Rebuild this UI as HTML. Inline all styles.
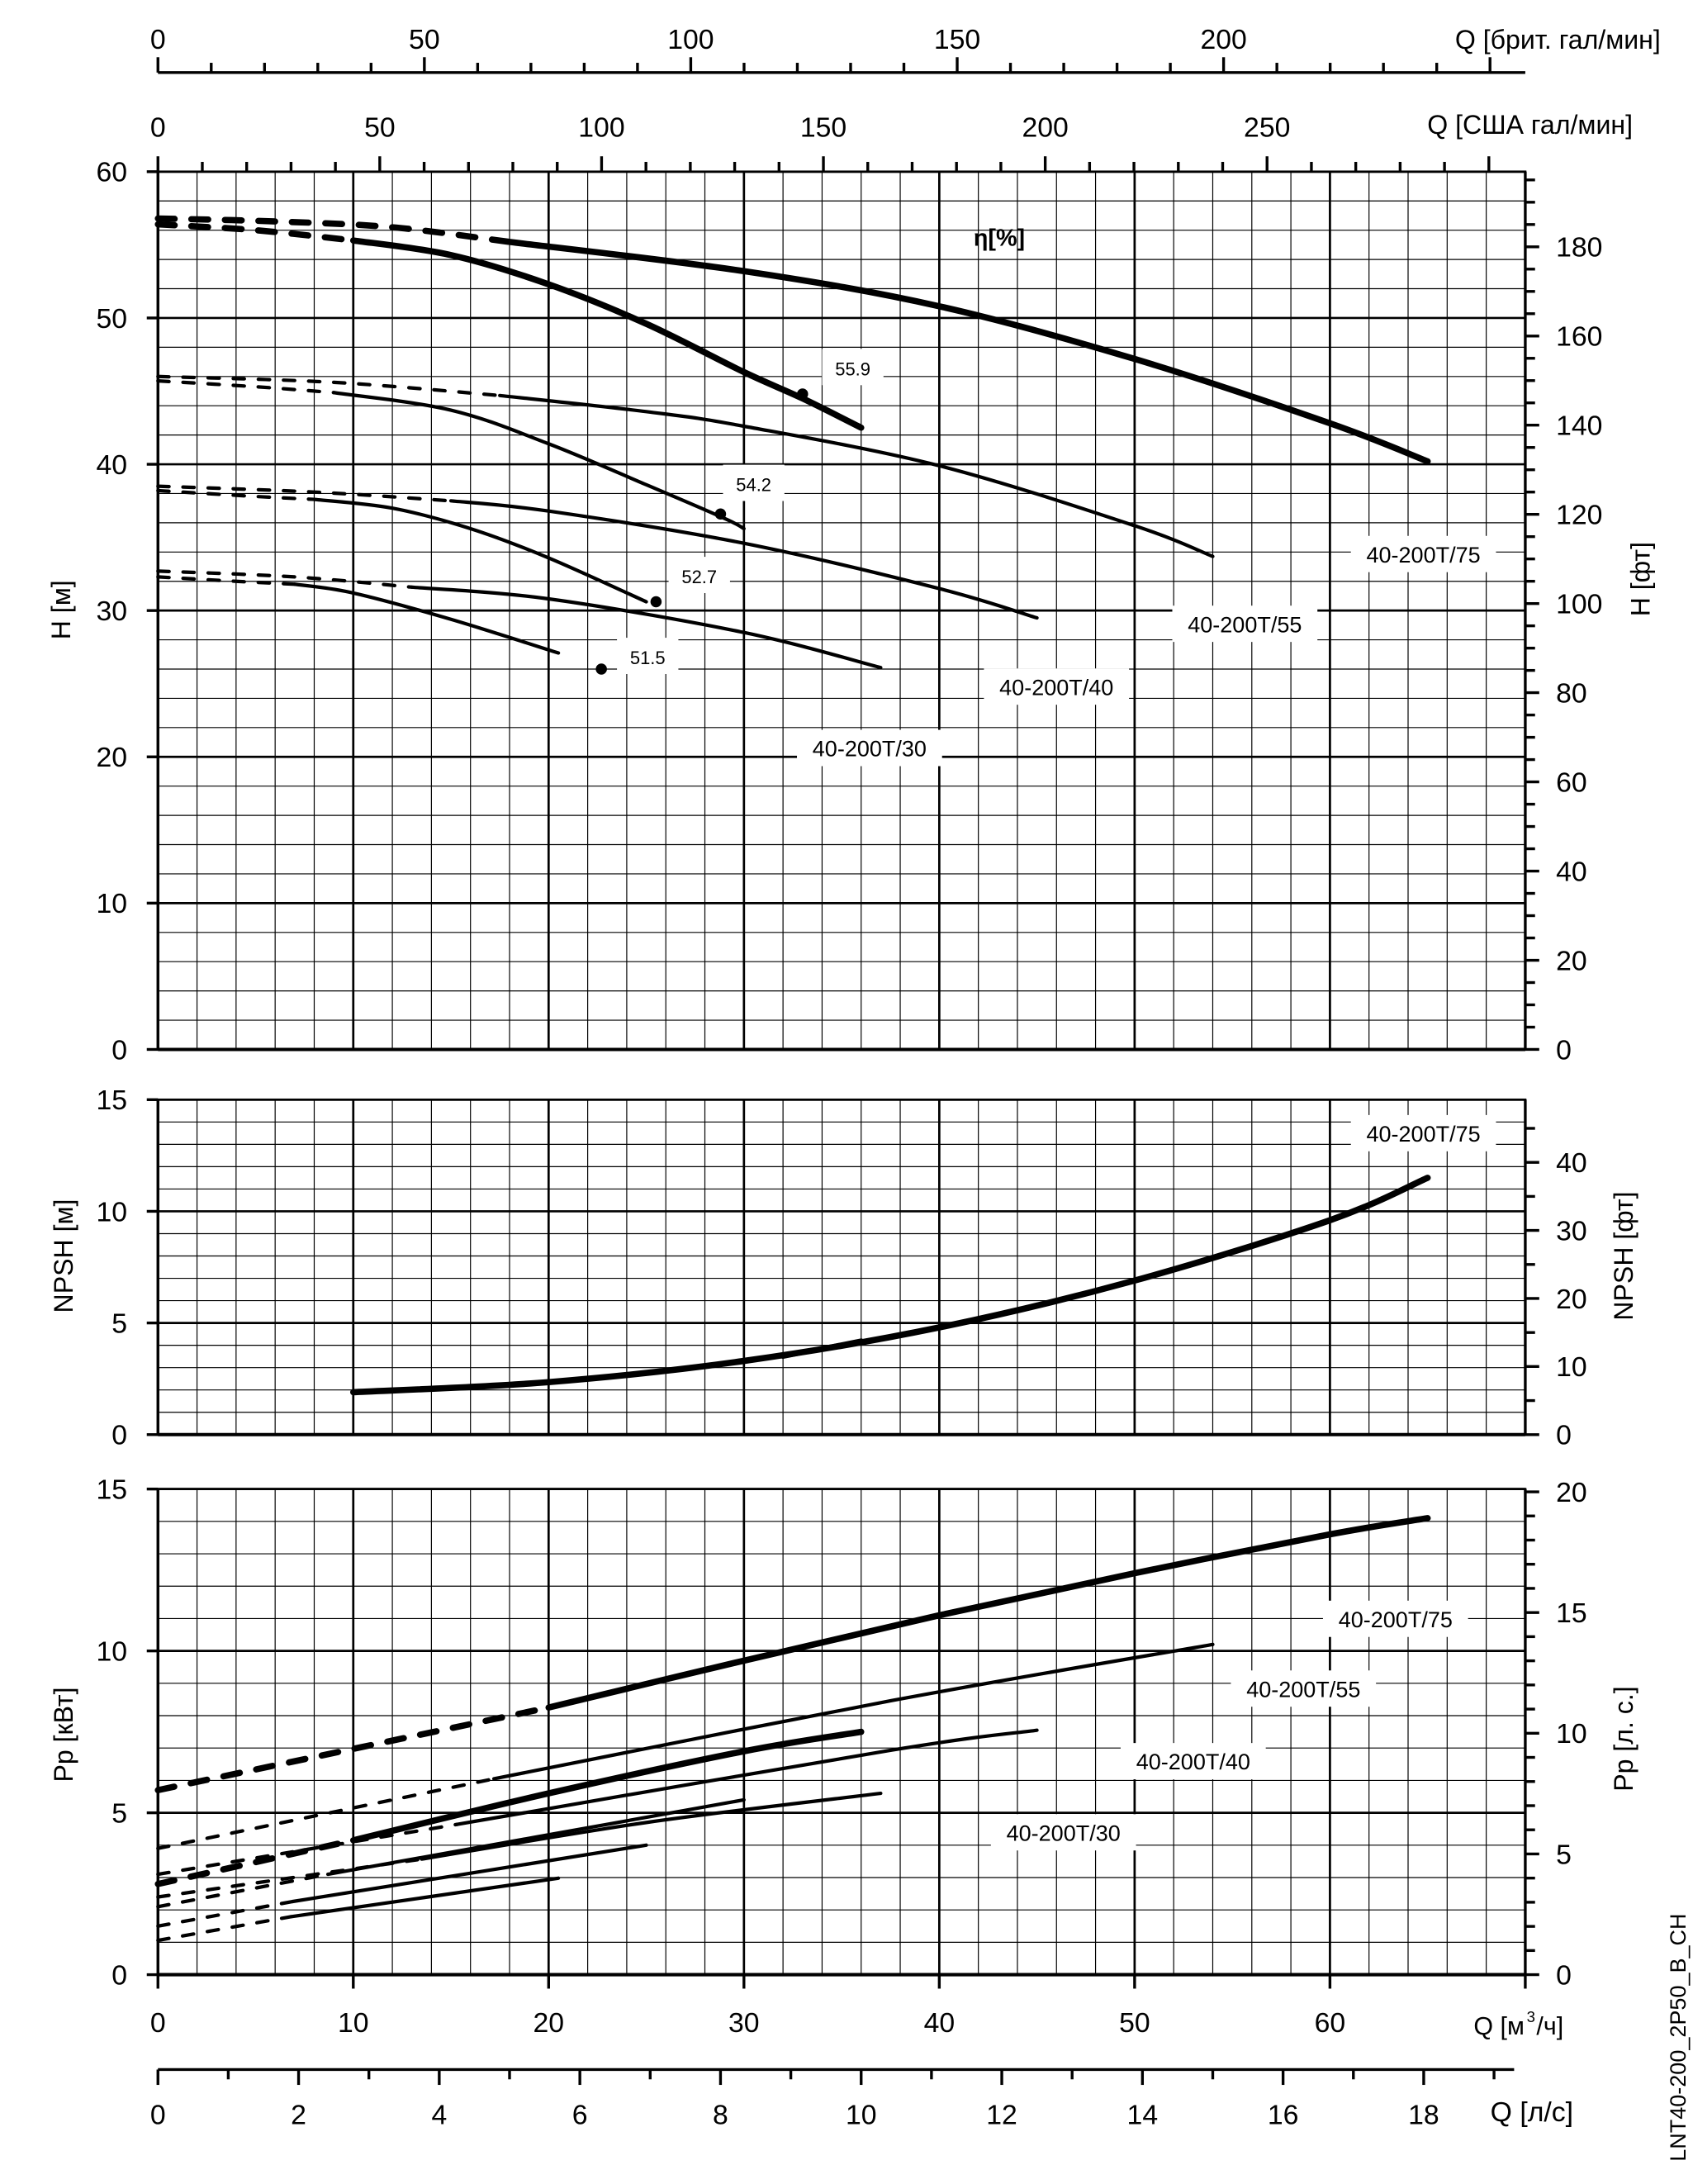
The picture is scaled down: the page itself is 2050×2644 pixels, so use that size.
<!DOCTYPE html>
<html><head><meta charset="utf-8"><style>
html,body{margin:0;padding:0;background:#fff}
svg{display:block}
text{font-family:"Liberation Sans",sans-serif;fill:#000}
</style></head><body>
<svg id="s" xmlns="http://www.w3.org/2000/svg" width="2050" height="2644" viewBox="0 0 1213 1565">
<rect width="1213" height="1565" fill="#fff"/>
<g id="g"></g>
</svg>
<script>
const NS="http://www.w3.org/2000/svg";
const G=document.getElementById('g');
function el(t,a,txt){const e=document.createElementNS(NS,t);for(const k in a)e.setAttribute(k,a[k]);if(txt!==undefined)e.textContent=txt;G.appendChild(e);return e;}
function line(x1,y1,x2,y2,w){el('line',{x1,y1,x2,y2,stroke:'#000','stroke-width':w});}
function txt(x,y,s,size,anchor,rot){const a={x,y,'font-size':size,'text-anchor':anchor||'middle'};if(rot)a.transform=`rotate(${rot} ${x} ${y})`;el('text',a,s);}
const L=113,R=1093;
const X=q=>L+14*q;
const Hy=h=>752-10.483*h, Ny=n=>1028-16*n, Py=p=>1415-23.2*p;
function grid(top,bot,yf,maxv,minorStep,majorStep){
  for(let q=0;q<=70;q+=2){line(X(q),top,X(q),bot,q%10==0?1.6:0.7);}
  for(let v=0;v<=maxv+1e-9;v+=minorStep){const y=yf(v);line(L,y,R,y,Math.abs(v/majorStep-Math.round(v/majorStep))<1e-6?1.6:0.7);}
  el('rect',{x:L,y:top,width:R-L,height:bot-top,fill:'none',stroke:'#000','stroke-width':1.6});
  line(L,bot,R,bot,2.4);line(L,top,L,bot,2);line(R,top,R,bot,2);
}
grid(123,752,Hy,60,2,10);
grid(788,1028,Ny,15,1,5);
grid(1067,1415,Py,15,1,5);
for(let h=0;h<=60;h+=10){line(L-8,Hy(h),L,Hy(h),2);txt(L-22,Hy(h)+7,h,20,'end');}
for(let n=0;n<=15;n+=5){line(L-8,Ny(n),L,Ny(n),2);txt(L-22,Ny(n)+7,n,20,'end');}
for(let p=0;p<=15;p+=5){line(L-8,Py(p),L,Py(p),2);txt(L-22,Py(p)+7,p,20,'end');}
for(let f=0;f<=195;f+=5){const y=752-f*0.3048*10.483;if(y<123)break;line(R,y,R+(f%20==0?10:7),y,2);if(f%20==0)txt(R+22,y+7,f,20,'start');}
for(let f=0;f<=49;f+=5){const y=1028-f*0.3048*16;if(y<788)break;line(R,y,R+(f%10==0?10:7),y,2);if(f%10==0)txt(R+22,y+7,f,20,'start');}
for(let hp=0;hp<=20;hp++){const y=1415-hp*0.7457*23.2;if(y<1066)break;line(R,y,R+(hp%5==0?10:7),y,2);if(hp%5==0)txt(R+22,y+7,hp,20,'start');}
for(let q=0;q<=70;q+=10){line(X(q),1415,X(q),1425,2);if(q<70)txt(X(q),1456,q,20);}
el('text',{x:1056,y:1458,'font-size':18,'text-anchor':'start'},'Q [м');
el('text',{x:1094,y:1449,'font-size':11,'text-anchor':'start'},'3');
el('text',{x:1101,y:1458,'font-size':18,'text-anchor':'start'},'/ч]');
line(L,1483,1085,1483,2);
for(let l=0;l<=19;l++){const x=L+l*3.6*14;if(x>1086)break;line(x,1483,x,1483+(l%2==0?11:7),2);if(l%2==0)txt(x,1522,l,20);}
txt(1068,1520,'Q [л/с]',20,'start');
line(L,52,1093,52,2);
for(let g=0;g<=250;g+=10){const x=L+g*14/3.666;if(x>1093)break;line(x,52,x,52-(g%50==0?11:7),2);if(g%50==0&&g<=200)txt(x,35,g,20);}
txt(1190,35,'Q [брит. гал/мин]',19,'end');
for(let g=0;g<=300;g+=10){const x=L+g*14/4.403;if(x>1093)break;line(x,123,x,123-(g%50==0?11:7),2);if(g%50==0&&g<300)txt(x,98,g,20);}
txt(1170,96,'Q [США гал/мин]',19,'end');
txt(50,437,'H [м]',19,'middle',-90);
txt(1182,415,'H [фт]',19,'middle',-90);
txt(52,900,'NPSH [м]',19,'middle',-90);
txt(1170,900,'NPSH [фт]',19,'middle',-90);
txt(52,1243,'Pp [кВт]',19,'middle',-90);
txt(1170,1246,'Pp [л. с.]',19,'middle',-90);
txt(1208,1460,'LNT40-200_2P50_B_CH',16,'middle',-90);
function path(pts,yf){const P=pts.map(p=>[X(p[0]),yf(p[1])]);let d=`M${P[0][0]},${P[0][1]}`;
 for(let i=0;i<P.length-1;i++){const p0=P[i-1]||P[i],p1=P[i],p2=P[i+1],p3=P[i+2]||p2;
  d+=`C${p1[0]+(p2[0]-p0[0])/6},${p1[1]+(p2[1]-p0[1])/6} ${p2[0]-(p3[0]-p1[0])/6},${p2[1]-(p3[1]-p1[1])/6} ${p2[0]},${p2[1]}`;}
 return d;}
function curve(pts,yf,w,dash){const a={d:path(pts,yf),fill:'none',stroke:'#000','stroke-width':w,'stroke-linecap':'round'};if(dash)a['stroke-dasharray']=dash;el('path',a);}
const TD='12 12',tD='8 10';
function lab(x,y,s,w,size){el('rect',{x:x-w/2,y:y-13,width:w,height:26,fill:'#fff'});txt(x,y+6,s,size||16);}
lab(1020,397,'40-200T/75',104);lab(892,447,'40-200T/55',104);lab(757,492,'40-200T/40',104);lab(623,536,'40-200T/30',104);
lab(611,263,'55.9',44,13);lab(540,346,'54.2',44,13);lab(501,412,'52.7',44,13);lab(464,470,'51.5',44,13);
lab(1020,812,'40-200T/75',104);
lab(1000,1160,'40-200T/75',104);lab(934,1210,'40-200T/55',104);lab(855,1262,'40-200T/40',104);lab(762,1313,'40-200T/30',104);
el('text',{x:716,y:176,'font-size':17,'font-weight':'bold','text-anchor':'middle'},'η[%]');
curve([[0,56.8],[6,56.6],[12,56.2],[18,55.2]],Hy,4.5,TD);
curve([[18,55.2],[30,53.2],[40,50.8],[50,47.2],[60,42.8],[65,40.2]],Hy,4.5);
curve([[0,56.4],[5,56],[10,55.3]],Hy,4.5,TD);
curve([[10,55.3],[15,54.3],[20,52.3],[25,49.6],[30,46.3],[33,44.5],[36,42.5]],Hy,4.5);
curve([[0,46],[9,45.6],[17.5,44.7]],Hy,2.5,tD);
curve([[17.5,44.7],[25,43.6],[30,42.6],[40,39.9],[50,35.8],[54,33.7]],Hy,2.5);
curve([[0,45.7],[5,45.3],[9,44.9]],Hy,2.5,tD);
curve([[9,44.9],[15,43.7],[20,41.4],[25,38.6],[29,36.3],[30,35.6]],Hy,2.5);
curve([[0,38.5],[8,38.1],[15,37.5]],Hy,2.5,tD);
curve([[15,37.5],[20,36.8],[30,34.6],[40,31.5],[45,29.5]],Hy,2.5);
curve([[0,38.2],[5,37.8],[8,37.6]],Hy,2.5,tD);
curve([[8,37.6],[12,37],[16,35.6],[20,33.6],[25,30.6]],Hy,2.5);
curve([[0,32.7],[7,32.3],[13,31.6]],Hy,2.5,tD);
curve([[13,31.6],[20,30.8],[30,28.5],[37,26.1]],Hy,2.5);
curve([[0,32.3],[4,32],[7,31.8]],Hy,2.5,tD);
curve([[7,31.8],[10,31.2],[15,29.4],[20.5,27.1]],Hy,2.5);
[[33,44.8],[28.8,36.6],[25.5,30.6],[22.7,26]].forEach(p=>el('circle',{cx:X(p[0]),cy:Hy(p[1]),r:4,fill:'#000'}));
curve([[10,1.9],[20,2.35],[30,3.3],[40,4.8],[50,6.9],[60,9.6],[65,11.5]],Ny,4.5);
curve([[32,3.5],[36,4.2]],Ny,3.5);
curve([[0,5.7],[20,8.25]],Py,4.5,TD);
curve([[20,8.25],[30,9.7],[40,11.1],[50,12.4],[60,13.6],[65,14.1]],Py,4.5);
curve([[0,3.9],[17.2,6.05]],Py,2.5,tD);curve([[17.2,6.05],[37.6,8.47],[54,10.2]],Py,2.5);
curve([[0,2.8],[10,4.15]],Py,4.5,TD);curve([[10,4.15],[20,5.6],[30,6.9],[36,7.5]],Py,4.5);
curve([[0,3.1],[15.3,4.64]],Py,2.5,tD);curve([[15.3,4.64],[37.6,6.94],[45,7.55]],Py,2.5);
curve([[0,2.4],[13.5,3.57]],Py,2.5,tD);curve([[13.5,3.57],[25,4.7],[37,5.6]],Py,2.5);
curve([[0,2.1],[8.7,3.1]],Py,2.5,tD);curve([[8.7,3.1],[30,5.4]],Py,2.5);
curve([[0,1.5],[6.9,2.26]],Py,2.5,tD);curve([[6.9,2.26],[25,4.0]],Py,2.5);
curve([[0,1.06],[6.8,1.79]],Py,2.5,tD);curve([[6.8,1.79],[20.5,2.98]],Py,2.5);
</script>
</body></html>
